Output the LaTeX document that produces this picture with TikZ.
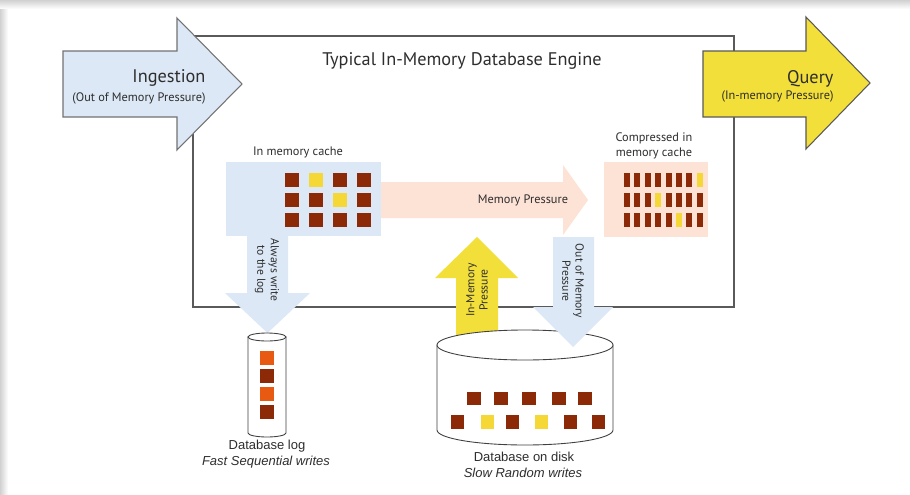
\documentclass[tikz,border=0pt]{standalone}
\usepackage{fontspec}
\setmainfont{PT Sans}
\newfontfamily\arialfont{Liberation Sans}

\definecolor{cacheblue}{HTML}{DCE8F6}
\definecolor{queryyellow}{HTML}{F3DF3A}
\definecolor{blocky}{HTML}{F5D736}
\definecolor{blockb}{HTML}{8C2A08}
\definecolor{blocko}{HTML}{E85A12}
\definecolor{pressurepink}{HTML}{FDE2D6}
\definecolor{textgray}{HTML}{2E2E2E}
\definecolor{linegray}{HTML}{5A5A5A}

\begin{document}
\begin{tikzpicture}[x=0.02cm, y=-0.02cm, line width=0.6pt,
    every node/.style={text=textgray, inner sep=0pt},
    label/.style={font=\fontsize{7}{8.4}\selectfont},
    biglabel/.style={font=\fontsize{10.4}{12}\selectfont},
    sidelabel/.style={font=\fontsize{6.6}{7.6}\selectfont, align=center},
    disklabel/.style={font=\arialfont\fontsize{7.4}{9}\selectfont},
    cyl/.style={draw=black!75, fill=white, line width=0.5pt}]

    % Background with the shadow at the top and on the left
    \useasboundingbox (0,0) rectangle (910,494);
    \fill[white] (0,0) rectangle (910,494);
    \shade[top color=black!18, bottom color=white] (0,0) rectangle (910,9);
    \shade[left color=black!18, right color=white] (0,9) rectangle (8,494);

    % Draw the engine frame
    \draw[linegray] (193,36) rectangle (734,307);
    \node[font=\fontsize{10.4}{12}\selectfont] (title) at (462,61) {Typical In-Memory Database Engine};

    % Ingestion arrow
    \draw[fill=cacheblue, draw=black!55] (63,51) -- (177,51) -- (177,18) -- (242,84)
        -- (177,150) -- (177,117) -- (63,117) -- cycle;
    \node[biglabel, anchor=east] (ingest) at (206,78) {Ingestion};
    \node[label, anchor=east] (ingestsub) at (206,98) {(Out of Memory Pressure)};

    % Query arrow
    \draw[fill=queryyellow, draw=black!65] (703,51) -- (806,51) -- (806,17) -- (870,83)
        -- (806,149) -- (806,117) -- (703,117) -- cycle;
    \node[biglabel, anchor=east] (query) at (834,79) {Query};
    \node[label, anchor=east] (querysub) at (834,96) {(In-memory Pressure)};

    % Memory pressure arrow from cache to compressed cache
    \fill[pressurepink] (381,182) -- (563,182) -- (563,165) -- (588,200)
        -- (563,235) -- (563,218) -- (381,218) -- cycle;
    \node[label] (mempress) at (523,200) {Memory Pressure};

    % In memory cache and the write to the log
    \fill[cacheblue] (226,162) rectangle (381,236);
    \fill[cacheblue] (247,236) -- (288,236) -- (288,293) -- (310,293) -- (267.5,333)
        -- (225,293) -- (247,293) -- cycle;
    \node[label] (cachelbl) at (298,152) {In memory cache};
    \foreach \r [count=\j from 0] in {{b,y,b,b},{b,b,y,b},{b,b,b,b}}
        \foreach \c [count=\i from 0] in \r
            \fill[block\c] (285+24*\i,173+20*\j) rectangle ++(14,14);
    \node[sidelabel, rotate=-90] (logwrite) at (267,270) {Always write\\to the log};

    % Compressed in memory cache
    \fill[pressurepink] (604,162) rectangle (708,237);
    \node[label, align=center] (complbl) at (654,146) {Compressed in\\memory cache};
    \foreach \r [count=\j from 0] in {{b,b,b,b,b,b,b,y},{b,b,b,y,b,b,b,b},{b,b,b,b,b,y,b,b}}
        \foreach \c [count=\i from 0] in \r
            \fill[block\c] (624+10.4*\i,173+20*\j) rectangle ++(6,14);

    % In-memory pressure arrow (up) out of the disk
    \fill[queryyellow] (456,338) -- (456,278) -- (435,278) -- (477,237) -- (518,278)
        -- (498,278) -- (498,338) -- cycle;
    \node[sidelabel, rotate=90] (inmem) at (477,290) {In-Memory\\Pressure};

    % Database log
    \draw[cyl] (248,337) -- (248,433) arc[start angle=180, end angle=0, x radius=19, y radius=4]
        -- (286,337) -- cycle;
    \draw[cyl] (267,337) ellipse[x radius=19, y radius=4];
    \foreach \c [count=\i from 0] in {o,b,o,b}
        \fill[block\c] (260,351+18*\i) rectangle ++(14,14);
    \node[disklabel] (loglbl) at (267,446) {Database log};
    \node[disklabel, font=\arialfont\itshape\fontsize{7.4}{9}\selectfont] (logsub) at (266,462) {Fast Sequential writes};

    % Database on disk
    \draw[cyl] (437,345) -- (437,430) arc[start angle=180, end angle=0, x radius=88, y radius=15]
        -- (613,345) -- cycle;
    \draw[cyl] (525,345) ellipse[x radius=88, y radius=15];
    \foreach \x in {467,494,522,552,578}
        \fill[blockb] (\x,392) rectangle ++(14,13);
    \foreach \x/\c in {451/b,481/y,506/b,535/y,564/b,592/b}
        \fill[block\c] (\x,415) rectangle ++(13,14);
    \node[disklabel] (disklbl) at (524,457) {Database on disk};
    \node[disklabel, font=\arialfont\itshape\fontsize{7.4}{9}\selectfont] (disksub) at (523,473) {Slow Random writes};

    % Out of memory pressure arrow (down) to the disk
    \fill[cacheblue] (553,237) -- (594,237) -- (594,307) -- (613,307) -- (573,347)
        -- (533,307) -- (553,307) -- cycle;
    \node[sidelabel, rotate=-90] (outmem) at (573,281) {Out of Memory\\Pressure};

\end{tikzpicture}
\end{document}
